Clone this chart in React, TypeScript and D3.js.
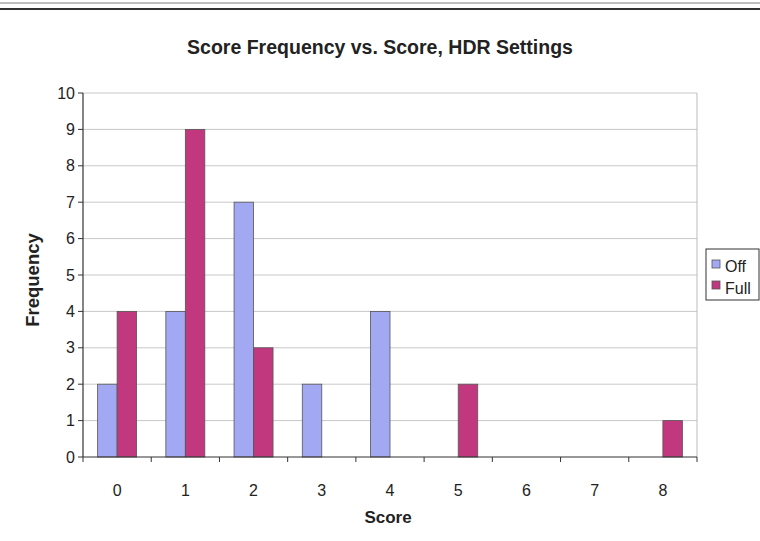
import React from "react";
import * as d3 from "d3";

const categories = ["0", "1", "2", "3", "4", "5", "6", "7", "8"];
const offValues = [2, 4, 7, 2, 4, 0, 0, 0, 0];
const fullValues = [4, 9, 3, 0, 0, 2, 0, 0, 1];
const seriesNames = ["Off", "Full"];
const yTicks = [0, 1, 2, 3, 4, 5, 6, 7, 8, 9, 10];

const W = 760;
const H = 541;
const left = 83;
const right = 697;
const top = 93;
const bottom = 457;
const colors = ["#A3A8F2", "#C2387F"];

export default function App() {
  const x = d3.scaleBand<string>().domain(categories).range([left, right]).paddingInner(0).paddingOuter(0);
  const inner = d3.scaleBand<string>().domain(seriesNames).range([0, x.bandwidth()]).paddingInner(0).paddingOuter(0.75);
  const y = d3.scaleLinear().domain([0, 10]).range([bottom, top]);
  const series = [offValues, fullValues];
  const font = "'Liberation Sans', Arial, sans-serif";
  return (
    <svg width={W} height={H} style={{ position: "absolute", left: 0, top: 0, background: "#fff" }} fontFamily={font}>
      <rect x={0} y={0} width={W} height={H} fill="#fff" />
      <line x1={0} x2={W} y1={3} y2={3} stroke="#aaa" strokeWidth={1.5} />
      <line x1={0} x2={W} y1={9} y2={9} stroke="#333" strokeWidth={2} />
      <text x={380} y={54} textAnchor="middle" fontSize={19.5} fontWeight="bold" fill="#222">
        Score Frequency vs. Score, HDR Settings
      </text>
      {yTicks.map((t) => (
        <g key={t}>
          {t > 0 && <line x1={left} x2={right} y1={y(t)} y2={y(t)} stroke="#c8c8c8" strokeWidth={1} />}
          <line x1={left - 5} x2={left} y1={y(t)} y2={y(t)} stroke="#333" />
          <text x={left - 8} y={y(t) + 5.5} textAnchor="end" fontSize={16} fill="#222">{t}</text>
        </g>
      ))}
      <line x1={right} x2={right} y1={top} y2={bottom} stroke="#bbb" />
      {categories.map((c, i) =>
        series.map((vals, s) => {
          const bx = (x(c) as number) + (inner(seriesNames[s]) as number);
          return (
            <rect key={c + s} x={bx} y={y(vals[i])} width={inner.bandwidth()} height={bottom - y(vals[i])}
              fill={colors[s]} stroke="#555" strokeWidth={0.8} />
          );
        })
      )}
      <line x1={left} x2={left} y1={top} y2={bottom} stroke="#333" strokeWidth={1.2} />
      <line x1={left} x2={right} y1={bottom} y2={bottom} stroke="#333" strokeWidth={1.2} />
      {categories.map((c) => (
        <line key={"t" + c} x1={(x(c) as number) + x.bandwidth()} x2={(x(c) as number) + x.bandwidth()} y1={bottom} y2={bottom + 5} stroke="#333" />
      ))}
      <line x1={left} x2={left} y1={bottom} y2={bottom + 5} stroke="#333" />
      {categories.map((c) => (
        <text key={"l" + c} x={(x(c) as number) + x.bandwidth() / 2} y={496} textAnchor="middle" fontSize={16} fill="#222">{c}</text>
      ))}
      <text x={388} y={523} textAnchor="middle" fontSize={17} fontWeight="bold" fill="#222">Score</text>
      <text transform={`translate(39,280) rotate(-90)`} textAnchor="middle" fontSize={18.5} fontWeight="bold" fill="#222">Frequency</text>
      <rect x={706} y={249} width={53} height={51} fill="#fff" stroke="#333" strokeWidth={1} />
      {seriesNames.map((n, i) => (
        <g key={n}>
          <rect x={712} y={260 + i * 21} width={8} height={8} fill={colors[i]} stroke="#555" strokeWidth={0.8} />
          <text x={725} y={272 + i * 22} fontSize={16} fill="#222">{n}</text>
        </g>
      ))}
    </svg>
  );
}
